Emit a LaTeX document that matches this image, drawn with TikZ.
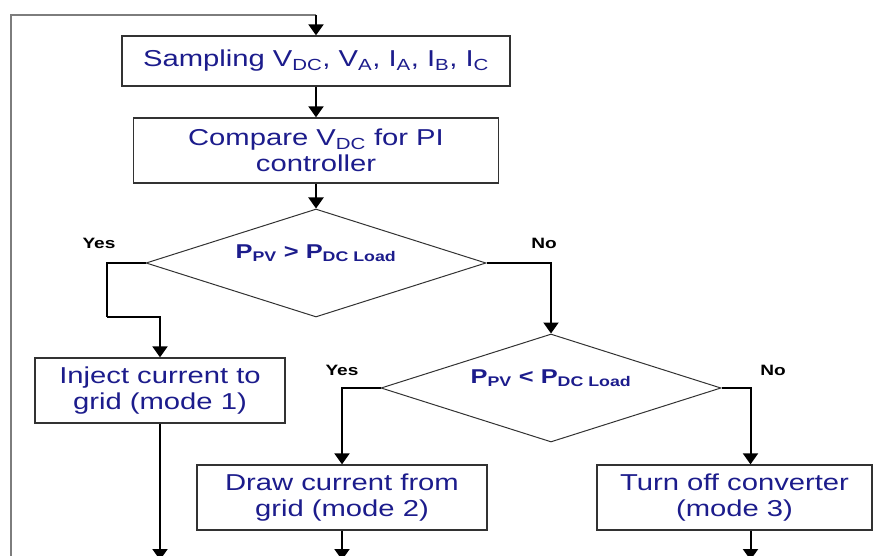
\documentclass[tikz,border=0pt]{standalone}
\usepackage{fontspec}
\setmainfont{Liberation Sans}[FakeStretch=1.27]
\usepackage{tikz}
\usetikzlibrary{shapes.geometric, positioning, arrows.meta, calc}
\definecolor{TxtNavy}{RGB}{28,28,140}
\definecolor{EdgeGray}{RGB}{50,50,50}
\definecolor{LoopGray}{RGB}{125,125,125}
\newcommand{\sub}[1]{\textsubscript{#1}}

\begin{document}
\begin{tikzpicture}[x=1pt, y=-1pt,
            box/.style={rectangle, draw=EdgeGray, line width=1.3pt, fill=white,
                        text=TxtNavy, align=center, inner sep=0pt,
                        font=\fontsize{23}{26}\selectfont},
            dec/.style={diamond, draw=EdgeGray, line width=1pt, inner sep=0pt,
                        minimum width=340pt, minimum height=108pt},
            dtext/.style={text=TxtNavy, font=\fontsize{20}{22}\selectfont\bfseries,
                          yshift=10pt},
            yn/.style={font=\fontsize{15}{17}\selectfont\bfseries},
            conn/.style={-{Triangle[length=11pt, width=15pt]}, line width=2pt},
            back/.style={LoopGray, line width=1.4pt}
          ]
          \useasboundingbox (0,0) rectangle (876,556);
          \node[box, minimum width=388pt, minimum height=50pt] (samp) at (316,61)
                {Sampling V\sub{DC}, V\sub{A}, I\sub{A}, I\sub{B}, I\sub{C}};
          \node[box, minimum width=365pt, minimum height=65pt] (comp) at (316,150.5)
                {Compare V\sub{DC} for PI\\controller};
          \node[dec, label={[dtext]center:P\sub{PV} > P\sub{DC Load}}] (dec1) at (316,263) {};
          \node[dec, label={[dtext]center:P\sub{PV} < P\sub{DC Load}}] (dec2) at (551,388) {};
          \node[box, minimum width=250pt, minimum height=65pt] (inj) at (160,390.5)
                {Inject current to\\grid (mode 1)};
          \node[box, minimum width=290pt, minimum height=65pt] (drw) at (342,497.5)
                {Draw current from\\grid (mode 2)};
          \node[box, minimum width=275pt, minimum height=65pt] (off) at (734.5,497.5)
                {Turn off converter\\(mode 3)};
          % yes / no labels
          \node[yn] (yes1) at (99,243) {Yes};
          \node[yn] (no1) at (544,243) {No};
          \node[yn] (yes2) at (342,370) {Yes};
          \node[yn] (no2) at (773,370) {No};
          % helper points
          \coordinate (looptop) at (316,15);
          \coordinate (loopbot) at (11,560);
          \coordinate (bend1) at (107,317);
          \coordinate (bot) at (0,560);
          % connectors
          \draw[back] (loopbot) |- (looptop);
          \draw[conn] (looptop) -- (samp);
          \draw[conn] (samp) -- (comp);
          \draw[conn] (comp) -- (dec1);
          \draw[line width=2pt] (dec1.west) -| (bend1);
          \draw[conn] (bend1) -| (inj.north);
          \draw[conn] (dec1.east) -| (dec2.north);
          \draw[conn] (dec2.west) -| (drw.north);
          \draw[conn] (dec2.east) -| ([xshift=16pt]off.north);
          \draw[conn] (inj.south) -- (inj.south |- bot);
          \draw[conn] (drw.south) -- (drw.south |- bot);
          \draw[conn] ([xshift=16pt]off.south) -- ([xshift=16pt]off.south |- bot);
        \end{tikzpicture}
\end{document}
